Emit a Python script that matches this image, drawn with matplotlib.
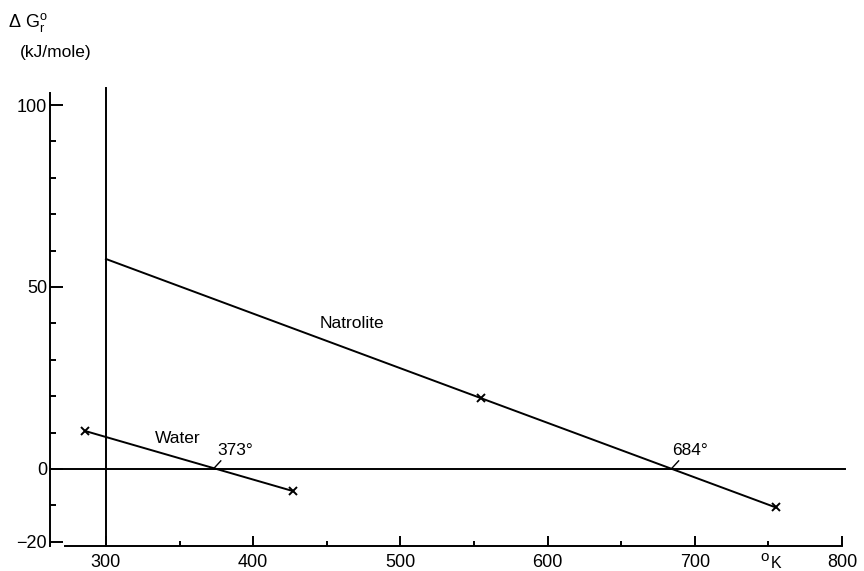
import numpy as np
import matplotlib
matplotlib.use("Agg")
import matplotlib.pyplot as plt
from matplotlib.ticker import FixedLocator

plt.rcParams['font.family'] = ['Liberation Sans', 'DejaVu Sans']
plt.rcParams['mathtext.fontset'] = 'custom'
plt.rcParams['mathtext.rm'] = 'Liberation Sans'
plt.rcParams['mathtext.it'] = 'Liberation Sans'

# natrolite reaction: line starts at 300 K, crosses at 684 K
natrolite_T = [300, 555, 755]
natrolite_G = [57.7, 19.4, -10.6]
natrolite_marks = [1, 2]          # which points carry an x

# water
water_T = [286, 427]
water_G = [10.4, -6.1]

x_major = [300, 400, 500, 600, 700, 800]
x_minor = [350, 450, 550, 650, 750]
y_major = [100, 50, 0, -20]
y_minor = [90, 80, 70, 60, 40, 30, 20, 10, -10]

# labels: (text, crossing T, label T, label G)
crossings = [("373°", 373, 388, 5.0), ("684°", 684, 697, 5.0)]

fig = plt.figure(figsize=(8.64, 5.71), dpi=100)
ax = fig.add_axes([50/864, 25/571, 800/864, 458/571])
ax.set_xlim(262, 805.4)
ax.set_ylim(-21.2, 104.7)

lw = 1.4
ax.spines['top'].set_visible(False)
ax.spines['right'].set_visible(False)
ax.spines['left'].set_linewidth(lw)
ax.spines['bottom'].set_linewidth(lw)
ax.spines['left'].set_bounds(-21.2, 103.3)
ax.spines['bottom'].set_bounds(272, 800)

ax.xaxis.set_major_locator(FixedLocator(x_major))
ax.xaxis.set_minor_locator(FixedLocator(x_minor))
ax.yaxis.set_major_locator(FixedLocator(y_major))
ax.yaxis.set_minor_locator(FixedLocator(y_minor))
ax.tick_params(axis='x', which='major', direction='in', length=7, width=lw,
               labelsize=13, pad=6)
ax.tick_params(axis='x', which='minor', direction='in', length=3.5, width=lw)
ax.tick_params(axis='y', which='major', direction='in', length=9, width=lw,
               labelsize=13, pad=2)
ax.tick_params(axis='y', which='minor', direction='in', length=4, width=lw)
ax.set_yticklabels(["100", "50", "0", "\u221220"])

# reference lines
ax.plot([262, 802], [0, 0], color='black', lw=lw, clip_on=False)
ax.plot([300, 300], [-21.2, 104.7], color='black', lw=lw, clip_on=False)

# reaction lines
ax.plot(natrolite_T, natrolite_G, color='black', lw=lw)
ax.plot([natrolite_T[i] for i in natrolite_marks],
        [natrolite_G[i] for i in natrolite_marks],
        'x', color='black', ms=6, mew=1.4)
ax.plot(water_T, water_G, color='black', lw=lw, marker='x', ms=6, mew=1.4)

ax.text(467, 40, "Natrolite", fontsize=12.5, ha='center', va='center')
ax.text(349, 8.3, "Water", fontsize=12.5, ha='center', va='center')
for lab, t0, tx, gy in crossings:
    ax.text(tx, gy, lab, fontsize=12.5, ha='center', va='center')
    ax.plot([t0 + 5, t0], [2.2, 0], color='black', lw=1.0)

# axis titles
fig.text(8/864, 1 - 22/571, r"$\Delta\ \mathrm{G}_{\mathrm{r}}^{\mathrm{o}}$",
         fontsize=13, ha='left', va='center')
fig.text(20/864, 1 - 52/571, "(kJ/mole)", fontsize=12.5, ha='left', va='center')
ax.text(747.5, -24.3, "o", fontsize=11, ha='center', va='center', clip_on=False)
ax.text(755.5, -26.0, "K", fontsize=11.5, ha='center', va='center', clip_on=False)

fig.savefig("out.png", dpi=100)
